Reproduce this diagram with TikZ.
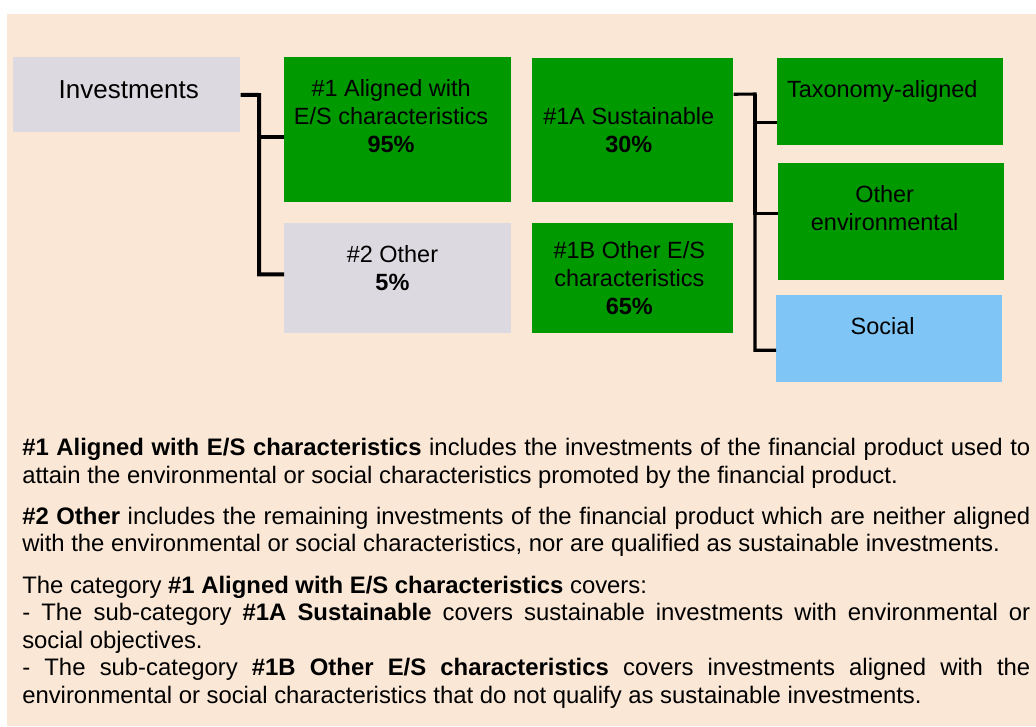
\documentclass[tikz,border=0pt]{standalone}
\usepackage{fontspec}
\setmainfont{Liberation Sans}
\usetikzlibrary{positioning}
\definecolor{peach}{HTML}{FAE7D6}
\definecolor{esgreen}{HTML}{009900}
\definecolor{boxgrey}{HTML}{DCDAE0}
\definecolor{socblue}{HTML}{7FC6F7}
\begin{document}
\begin{tikzpicture}[x=0.75pt,y=-0.75pt,
		box/.style 2 args={rectangle,inner sep=0pt,anchor=north west,minimum width=#1*0.75pt,minimum height=#2*0.75pt},
		lbl/.style={inner sep=0pt,align=center,font=\fontsize{17.6}{21}\selectfont},
		link/.style={line width=3pt},
		notes/.style={anchor=north west,inner sep=0pt,text width=756pt,align=justify,font=\fontsize{17.9}{20.6}\selectfont}]
		\useasboundingbox (0,0) rectangle (1036,726);
		\fill[white] (0,0) rectangle (1036,726);
		\fill[peach] (7,14) rectangle (1036,726);
		
		% boxes
		\node[box={227}{75},fill=boxgrey] (inv) at (13,57) {};
		\node[box={227}{145},fill=esgreen] (al) at (284,57) {};
		\node[box={227}{110},fill=boxgrey] (oth) at (284,223) {};
		\node[box={201}{144},fill=esgreen] (sus) at (532,58) {};
		\node[box={201}{110},fill=esgreen] (oes) at (532,223) {};
		\node[box={226}{87},fill=esgreen] (tax) at (777,58) {};
		\node[box={226}{117},fill=esgreen] (oenv) at (778,163) {};
		\node[box={226}{87},fill=socblue] (soc) at (776,295) {};
		
		% labels
		\node[lbl,font=\fontsize{19.5}{23}\selectfont,below=17.25pt of inv.north,xshift=1.5pt] (inv-t) {Investments};
		\node[lbl,below=16.5pt of al.north,xshift=-5pt] (al-t) {\#1 Aligned with\\E/S characteristics\\\textbf{95\%}};
		\node[lbl,below=16.5pt of oth.north,xshift=-4pt] (oth-t) {\#2 Other\\\textbf{5\%}};
		\node[lbl,xshift=-3pt] (sus-t) at (sus.center) {\#1A Sustainable\\\textbf{30\%}};
		\node[lbl,xshift=-2.6pt] (oes-t) at (oes.center) {\#1B Other E/S\\characteristics\\\textbf{65\%}};
		\node[lbl,below=16.5pt of tax.north,xshift=-6pt] (tax-t) {Taxonomy-aligned};
		\node[lbl,below=16.5pt of oenv.north,xshift=-5pt] (oenv-t) {Other\\environmental};
		\node[lbl,below=16.5pt of soc.north,xshift=-5pt] (soc-t) {Social};
		
		% connectors
		\coordinate (split1) at (259,95);
		\draw[link] (inv.east) -- (split1) |- ([yshift=3pt]oth.west);
		\draw[link] ([yshift=-5.6pt]al.west) -| (split1);
		\coordinate (split2) at (755,94);
		\draw[link,line width=2.3pt] ([yshift=27pt]sus.east) -- (split2) |- ([yshift=-8.6pt]soc.west);
		\draw[link,line width=2.3pt] ([yshift=-15.4pt]tax.west) -| (split2);
		\draw[link,line width=2.3pt] ([yshift=6.4pt]oenv.west) -| (split2);
		
		% explanations
		\node[notes] (notes) at (22,438) {\setlength{\parskip}{10.5pt}\setlength{\parindent}{0pt}\tolerance=9999
			\textbf{\#1 Aligned with E/S characteristics} includes the investments of the financial product used to\linebreak attain the environmental or social characteristics promoted by the financial product.\par
			\textbf{\#2 Other} includes the remaining investments of the financial product which are neither aligned\linebreak with the environmental or social characteristics, nor are qualified as sustainable investments.\par
			The category \textbf{\#1 Aligned with E/S characteristics} covers:\newline
			- The sub-category \textbf{\#1A Sustainable} covers sustainable investments with environmental or\linebreak social objectives.\newline
			- The sub-category \textbf{\#1B Other E/S characteristics} covers investments aligned with the\linebreak environmental or social characteristics that do not qualify as sustainable investments.};
	\end{tikzpicture}
\end{document}
